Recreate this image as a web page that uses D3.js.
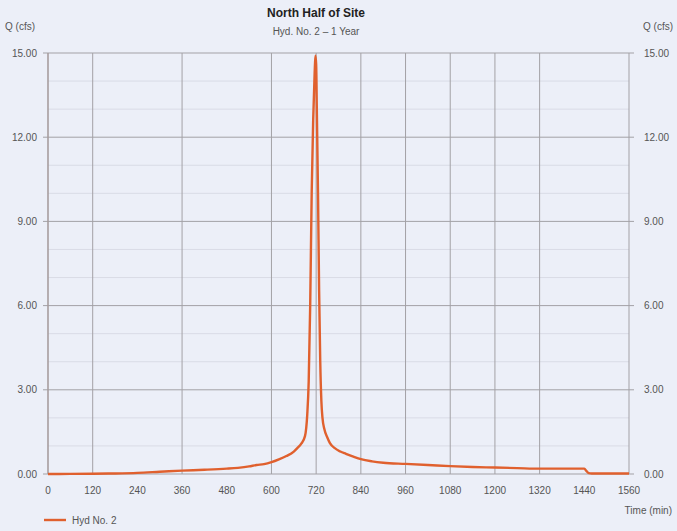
<!DOCTYPE html>
<html>
<head>
<meta charset="utf-8">
<script src="https://cdn.jsdelivr.net/npm/d3@7"></script>
<style>
  html, body { margin: 0; padding: 0; background: #eceff8; }
  svg { display: block; font-family: "Liberation Sans", Arial, sans-serif; }
</style>
</head>
<body>
<svg id="chart" width="677" height="531"></svg>
<script>
// Hydrograph ordinates: time (min) and discharge Q (cfs)
const times = [0, 60, 120, 180, 240, 300, 360, 420, 480, 510, 540, 560, 580, 600, 620, 640, 660, 670, 680, 690,
  696, 700, 704, 708, 712, 716, 718, 720, 722, 725, 728, 731, 734, 737, 742, 750, 757, 770, 785, 800, 820, 840,
  870, 900, 960, 1020, 1080, 1140, 1200, 1260, 1320, 1380, 1440, 1446, 1452, 1460, 1560];
const flows = [0.0, 0.005, 0.01, 0.02, 0.04, 0.08, 0.12, 0.15, 0.19, 0.22, 0.27, 0.32, 0.35, 0.42, 0.52, 0.64, 0.8, 0.93, 1.08, 1.35,
  2.1, 3.3, 6.0, 10.0, 12.6, 14.3, 14.9, 14.6, 12.8, 10.0, 6.5, 4.0, 2.6, 2.0, 1.6, 1.3, 1.1, 0.92, 0.8, 0.72, 0.62, 0.53,
  0.45, 0.40, 0.36, 0.32, 0.28, 0.25, 0.23, 0.21, 0.19, 0.19, 0.19, 0.1, 0.03, 0.02, 0.02];

const xTicks = [0, 120, 240, 360, 480, 600, 720, 840, 960, 1080, 1200, 1320, 1440, 1560];
const xGrid = [0, 120, 360, 600, 720, 840, 960, 1080, 1200, 1320, 1560];
const yTicks = [0, 3, 6, 9, 12, 15];
const yMinor = [1, 2, 4, 5, 7, 8, 10, 11, 13, 14];

const svg = d3.select("#chart");
const plotL = 48, plotR = 629, plotT = 53, plotB = 474;

const x = d3.scaleLinear().domain([0, 1560]).range([plotL, plotR]);
const y = d3.scaleLinear().domain([0, 15]).range([plotB, plotT]);

// faint minor horizontal grid
svg.append("g").selectAll("line").data(yMinor).join("line")
  .attr("x1", plotL).attr("x2", plotR)
  .attr("y1", d => y(d)).attr("y2", d => y(d))
  .attr("stroke", "#d9dbe6").attr("stroke-width", 1);

// vertical grid
svg.append("g").selectAll("line").data(xGrid).join("line")
  .attr("x1", d => x(d)).attr("x2", d => x(d))
  .attr("y1", plotT).attr("y2", plotB)
  .attr("stroke", "#a3a1a6").attr("stroke-width", 1);

// major horizontal grid with small outside ticks on both sides
svg.append("g").selectAll("line").data(yTicks).join("line")
  .attr("x1", plotL - 5).attr("x2", plotR + 5)
  .attr("y1", d => y(d)).attr("y2", d => y(d))
  .attr("stroke", "#a3a1a6").attr("stroke-width", 1);

// left axis line
svg.append("line")
  .attr("x1", plotL).attr("x2", plotL).attr("y1", plotT).attr("y2", plotB)
  .attr("stroke", "#a89c9c").attr("stroke-width", 1.2);

// tick labels
const fmt = d3.format(".2f");
svg.append("g").selectAll("text").data(yTicks).join("text")
  .attr("x", 37).attr("y", d => y(d) + 3.5)
  .attr("text-anchor", "end").attr("font-size", 10).attr("fill", "#555")
  .text(fmt);
svg.append("g").selectAll("text").data(yTicks).join("text")
  .attr("x", 644).attr("y", d => y(d) + 3.5)
  .attr("text-anchor", "start").attr("font-size", 10).attr("fill", "#555")
  .text(fmt);
svg.append("g").selectAll("text").data(xTicks).join("text")
  .attr("x", d => x(d)).attr("y", 494)
  .attr("text-anchor", "middle").attr("font-size", 10).attr("fill", "#555")
  .text(d => d);

// hydrograph
const pts = times.map((t, i) => [t, flows[i]]);
svg.append("path")
  .datum(pts)
  .attr("fill", "none")
  .attr("stroke", "#e0602e")
  .attr("stroke-width", 2.4)
  .attr("stroke-linejoin", "round")
  .attr("d", d3.line().x(d => x(d[0])).y(d => y(d[1])).curve(d3.curveMonotoneX));

// titles and axis captions
svg.append("text").attr("x", 316).attr("y", 17).attr("text-anchor", "middle")
  .attr("font-size", 12).attr("font-weight", "bold").attr("fill", "#222").text("North Half of Site");
svg.append("text").attr("x", 316).attr("y", 35).attr("text-anchor", "middle")
  .attr("font-size", 10).attr("fill", "#555").text("Hyd. No. 2 \u2013 1 Year");
svg.append("text").attr("x", 5).attr("y", 30)
  .attr("font-size", 10).attr("fill", "#555").text("Q (cfs)");
svg.append("text").attr("x", 643).attr("y", 30)
  .attr("font-size", 10).attr("fill", "#555").text("Q (cfs)");
svg.append("text").attr("x", 672).attr("y", 514).attr("text-anchor", "end")
  .attr("font-size", 10).attr("fill", "#555").text("Time (min)");

// legend
svg.append("line").attr("x1", 44).attr("x2", 66).attr("y1", 520).attr("y2", 520)
  .attr("stroke", "#e0602e").attr("stroke-width", 2.4);
svg.append("text").attr("x", 72).attr("y", 524)
  .attr("font-size", 10).attr("fill", "#555").text("Hyd No. 2");
</script>
</body>
</html>
